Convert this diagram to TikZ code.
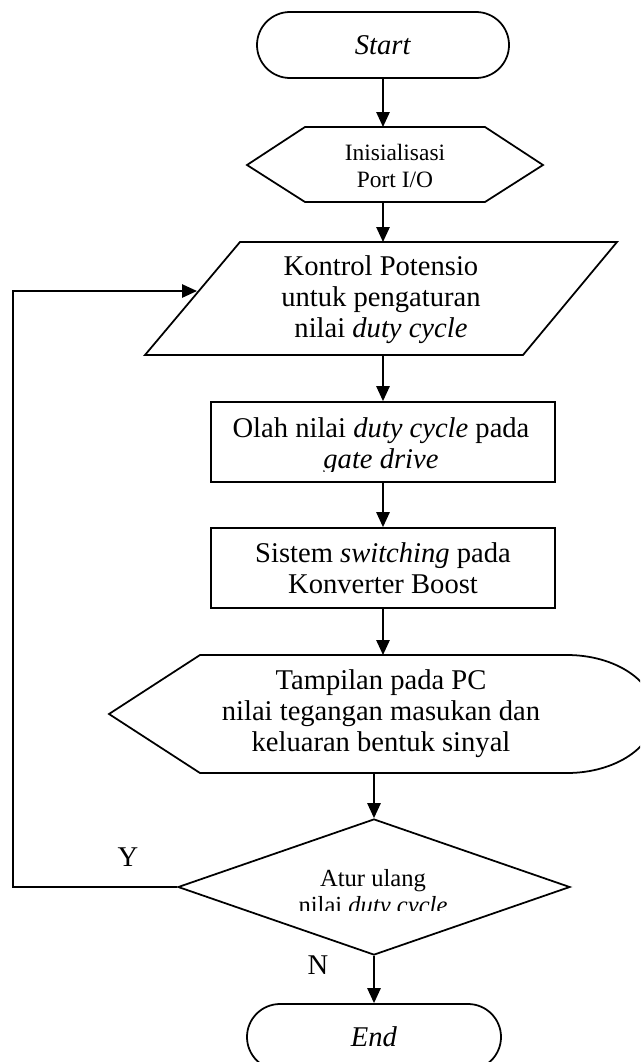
\documentclass[tikz,border=0pt]{standalone}
\usepackage{fontspec}
\setmainfont{Liberation Serif}
\usetikzlibrary{arrows.meta,shapes.misc,shapes.geometric}

\begin{document}
\begin{tikzpicture}[x=0.03cm,y=-0.03cm,line width=1.5pt,
    >={Triangle[length=0.45cm,width=0.4cm]},
    txt/.style={align=center,inner sep=0pt,font=\fontsize{24.4}{26.4}\selectfont},
    terminal/.style={draw,rounded rectangle,minimum height=1.98cm,txt},
    box/.style={draw,rectangle,minimum width=10.32cm,minimum height=2.4cm,txt}]
  \useasboundingbox (0,0) rectangle (640,1062);
  \clip (0,0) rectangle (640,1062);

  \node[terminal,minimum width=7.56cm] (start) at (383,45) {\textit{Start}};

  % inisialisasi
  \draw (247,165)--(305,127)--(485,127)--(543,165)--(485,202)--(305,202)--cycle;
  \coordinate (hexT) at (383,127);
  \coordinate (hexB) at (383,202);
  \node[txt,font=\fontsize{20}{23.8}\selectfont] (init) at (395,166) {Inisialisasi\\Port I/O};

  % input potensio
  \draw (240,242)--(617,242)--(523,355)--(145,355)--cycle;
  \coordinate (parT) at (383,242);
  \coordinate (parB) at (383,355);
  \coordinate (parL) at (197,291);
  \node[txt] (pot) at (381,300) {Kontrol Potensio\\untuk pengaturan\\nilai \textit{duty cycle}};

  \node[box] (olah) at (383,442) {};
  \begin{scope}
    \clip (209,402) rectangle (555,471);
    \node[txt] (olahT) at (381,446) {Olah nilai \textit{duty cycle} pada\\\textit{gate drive}};
  \end{scope}

  \node[box] (switch) at (383,568) {Sistem \textit{switching} pada\\Konverter Boost};

  % tampilan PC
  \draw (109,714)--(200,655)--(567,655) arc[start angle=-90,end angle=90,x radius=88,y radius=59]--(200,773)--cycle;
  \coordinate (dispT) at (383,655);
  \coordinate (dispB) at (374,773);
  \node[txt] (disp) at (381,714) {Tampilan pada PC\\nilai tegangan masukan dan\\keluaran bentuk sinyal};

  \node[draw,diamond,aspect=2.88,minimum width=11.76cm,minimum height=4.08cm,inner sep=0pt] (atur) at (374,887) {};
  \begin{scope}
    \clip (0,0) rectangle (640,910);
    \node[txt,font=\fontsize{21}{23}\selectfont] (aturT) at (373,894) {Atur ulang\\nilai \textit{duty cycle}};
  \end{scope}

  \node[terminal,minimum width=7.62cm] (end) at (374,1037) {\textit{End}};

  \node[txt] (yes) at (128,857) {Y};
  \node[txt] (no) at (318,965) {N};

  \draw[->] (start) -- (hexT);
  \draw[->] (hexB) -- (parT);
  \draw[->] (parB) -- (olah);
  \draw[->] (olah) -- (switch);
  \draw[->] (switch) -- (dispT);
  \draw[->] (dispB) -- (atur);
  \draw[->] (atur) -- (end);
  \draw[->] (atur.west) -- ++(-164,0) |- (parL);
\end{tikzpicture}
\end{document}
